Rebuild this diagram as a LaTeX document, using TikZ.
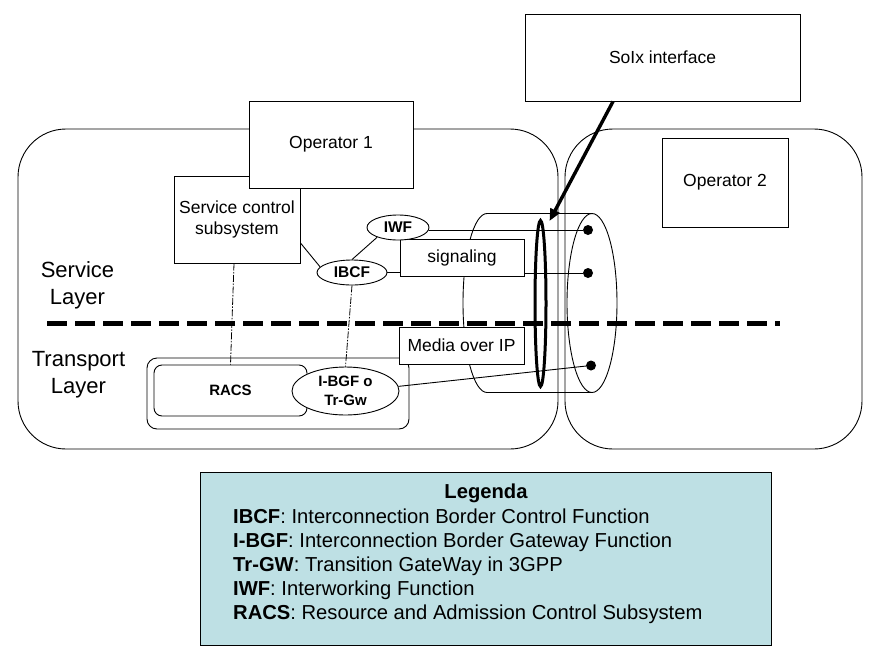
\documentclass[tikz,border=0pt]{standalone}
\usepackage{fontspec}
\setmainfont{Liberation Sans}
\usetikzlibrary{shapes.geometric,arrows.meta,calc}
\definecolor{legfill}{RGB}{190,224,228}
\begin{document}
\begin{tikzpicture}[x=1pt,y=-1pt,
  box/.style={draw,line width=1pt,fill=white,inner sep=0pt,align=center,font=\fontsize{17.5}{21}\selectfont},
  ell/.style={draw,ellipse,line width=0.9pt,fill=white,inner sep=0pt,font=\fontsize{15.5}{19}\selectfont\bfseries},
  elltext/.style={inner sep=0pt,align=center,font=\fontsize{15}{19}\selectfont\bfseries},
  region/.style={draw,line width=0.9pt,rounded corners=48pt,inner sep=0pt},
  rbox/.style={draw,line width=0.9pt,rounded corners=#1,inner sep=0pt,font=\fontsize{15}{19}\selectfont\bfseries},
  conn/.style={line width=0.9pt},
  ddot/.style={line width=0.8pt,dash pattern=on 7pt off 1.5pt on 1.5pt off 1.5pt},
  blackdot/.style={circle,fill=black,inner sep=0pt,minimum size=10pt},
  layertext/.style={align=center,font=\fontsize{22}{27}\selectfont},
  legline/.style={anchor=base west,inner sep=0pt,font=\fontsize{20.2}{24}\selectfont}
]
\useasboundingbox (0,0) rectangle (876,670);

% regions
\node[region,minimum width=540pt,minimum height=320pt] (reg1) at (288,289) {};
\node[region,minimum width=297pt,minimum height=320pt] (reg2) at (713.5,289) {};

% transport group
\node[rbox=10pt,minimum width=262pt,minimum height=71pt] (tgroup) at (278,393.5) {};
\node[rbox=8pt,minimum width=153pt,minimum height=51pt] (racs) at (230.5,390.5) {RACS};

% cylinder
\draw[conn] (592,213.5) -- (487,213.5) arc[start angle=90,end angle=270,x radius=24pt,y radius=89.5pt] -- (592,392.5);
\node[draw,ellipse,line width=0.9pt,inner sep=0pt,minimum width=50pt,minimum height=179pt] (cylend) at (592,303) {};
\node[draw,ellipse,line width=3pt,inner sep=0pt,minimum width=11pt,minimum height=166pt] (soix) at (540.5,303.5) {};

% layer separator
\coordinate (sepL) at (47,323);
\coordinate (sepR) at (780,323);
\draw[line width=5pt,dash pattern=on 20pt off 8pt] (sepL) -- (sepR);

% layer labels
\node[layertext] (svclayer) at (77.5,285) {Service\\Layer};
\node[layertext] (trlayer) at (78.5,374.5) {Transport\\Layer};

% boxes
\node[box,minimum width=126pt,minimum height=87pt] (scs) at (237,219.5) {Service control\\subsystem};
\node[box,minimum width=164pt,minimum height=87pt] (op1) at (331,144.5) {Operator 1};
\node[box,minimum width=126pt,minimum height=89pt] (op2) at (725,182.5) {Operator 2};
\node[box,minimum width=275pt,minimum height=87pt] (soixbox) at (662.5,57.5) {SoIx interface};
\node[box,minimum width=124pt,minimum height=37.5pt] (sig) at (462,257.75) {signaling};
\node[box,minimum width=125pt,minimum height=37pt] (media) at (461.5,345.5) {Media over IP};

% ellipses
\node[ell,minimum width=62pt,minimum height=25pt] (iwf) at (398,227.5) {IWF};
\node[ell,minimum width=70pt,minimum height=25pt] (ibcf) at (352,272.5) {IBCF};
\node[ell,minimum width=107pt,minimum height=48pt] (ibgf) at (345.5,391) {};
\node[elltext] (ibgftext) at (ibgf.center) {I-BGF o\\Tr-Gw};

% dots
\node[blackdot] (d1) at (588,230) {};
\node[blackdot] (d2) at (588,273) {};
\node[blackdot] (d3) at (591,365.5) {};

% connectors
\draw[conn] ([yshift=-23.5pt]scs.east) -- (ibcf.170);
\draw[conn] (iwf.205) -- (ibcf.north);
\draw[conn] (ibcf.east) -- (ibcf.east -| sig.west);
\draw[conn] (d1 -| iwf.east) -- (d1);
\draw[conn] (d2 -| sig.east) -- (d2);
\draw[conn] (ibgf.5) -- (d3);
\draw[ddot] ([xshift=-3pt]scs.south) -- (racs.north);
\draw[ddot] (ibcf.south) -- (ibgf.north);

% arrow
\draw[line width=3.4pt,-{Triangle[length=12pt,width=10pt]}] ([xshift=-49.5pt]soixbox.south) -- ([xshift=9pt,yshift=-2pt]soix.north);

% legend
\node[draw,line width=1pt,fill=legfill,inner sep=0pt,minimum width=571pt,minimum height=173pt] (legend) at (485.5,558.5) {};
\node[anchor=base,inner sep=0pt,font=\fontsize{20.2}{24}\selectfont\bfseries] (legtitle) at (486,498) {Legenda};
\node[legline] (leg1) at (233,523) {\textbf{IBCF}: Interconnection Border Control Function};
\node[legline] (leg2) at (233,547) {\textbf{I-BGF}: Interconnection Border Gateway Function};
\node[legline] (leg3) at (233,571) {\textbf{Tr-GW}: Transition GateWay in 3GPP};
\node[legline] (leg4) at (233,595) {\textbf{IWF}: Interworking Function};
\node[legline] (leg5) at (233,619) {\textbf{RACS}: Resource and Admission Control Subsystem};
\end{tikzpicture}
\end{document}
